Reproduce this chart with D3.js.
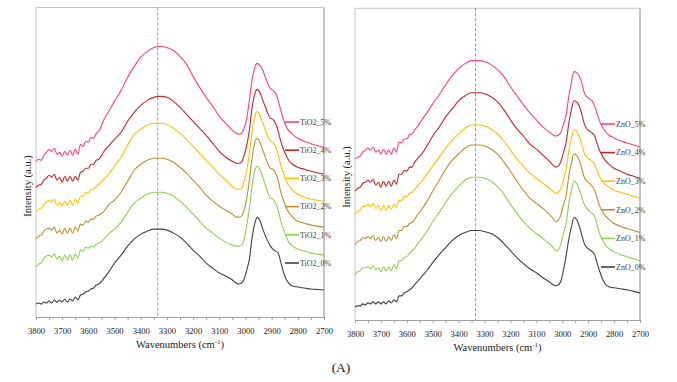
<!DOCTYPE html>
<html><head><meta charset="utf-8">
<script src="https://cdn.jsdelivr.net/npm/d3@7/dist/d3.min.js"></script>
<style>
html,body{margin:0;padding:0;background:#fff;}
svg text{font-family:"Liberation Serif","Times New Roman",serif;}
</style></head>
<body><svg id="chart" width="677" height="382"></svg>
<script>
// ---- data ----
const wavenumbers = [3800,3790,3780,3770,3760,3750,3740,3730,3720,3710,3700,3690,3680,3670,3660,3650,3640,3630,3620,3610,3600,3590,3580,3570,3560,
3540,3520,3500,3475,3450,3425,3400,3375,3350,3335,3320,3300,3275,3250,3225,3200,3175,3150,3125,3100,3075,3050,3035,3025,3015,3005,2995,2985,2975,2965,2955,2945,2935,2925,2915,2905,2895,2885,2875,2865,2855,2845,2835,2820,2800,2775,2750,2725,2700];
const xTicks = [3800,3750,3700,3650,3600,3550,3500,3450,3400,3350,3300,3250,3200,3150,3100,3050,3000,2950,2900,2850,2800,2750,2700];
const markerWavenumber = 3335;

const tio2Labels = ["TiO2_5%","TiO2_4%","TiO2_3%","TiO2_2%","TiO2_1%","TiO2_0%"];
const znoLabels  = ["ZnO_5%","ZnO_4%","ZnO_3%","ZnO_2%","ZnO_1%","ZnO_0%"];

const tio2_5 = [156,158,157,162,165,168,166,169,163,165,161,166,162,167,162,168,163,173,171,176,175,180,179,184,186,
198,207,216,227,240,251,260,266,270,271,271,270,267,261,253,241,230,220,211,201,194,187,184,183,184,189,199,217,237,249,254,252,248,241,234,229,227,224,217,207,198,191,187,183,179,176,173.5,171.5,170];
const tio2_4 = [130,132,133,137,139,142,140,143,137,140,135,141,136,141,136,141,137,145,146,149,149,153,153,157,158,
166,172,178,185,196,205,212,217,220,221,221,220,216,210,203,196,189,182,174,166,160,156,154,154,155,162,172,187,209,223,228,225,218,211,204,199,198,194,186,176,168,162,157,153,150,148,146,144.5,143];
const tio2_3 = [105,108,109,113,115,117,115,118,112,115,111,116,112,117,112,118,114,121,121,125,124,128,128,131,133,
138,144,151,160,172,183,188,192,194,194,194,193,189,184,178,171,164,157,150,143,137,131,128,128,129,136,147,164,185,200,206,202,195,188,181,176,175,171,163,152,144,137,132,127,123,120,118,117,116];
const tio2_2 = [78,81,82,86,88,89,87,90,84,87,83,89,84,89,84,90,86,93,92,96,95,98,98,101,102,
106,113,117,125,136,147,153,157,159,159,159,158,155,150,144,137,130,122,116,111,107,103,100,100,101,107,119,137,159,174,179,175,168,161,154,149,148,144,137,125,117,110,105,100,96,94,92,91,90];
const tio2_1 = [50,53,54,59,61,62,60,63,58,61,56,62,57,62,57,63,59,67,66,70,69,71,70,73,74,
78,84,88,95,105,114,119,123,125,125,125,124,121,116,110,103,96,89,84,79,75,72,71,71,72,78,92,109,131,146,151,148,141,133,125,119,118,114,107,96,88,81,75,71,68,66,64,63,62];
const tio2_0 = [13,14,13,15,14,16,14,17,15,17,15,18,15,18,16,20,17,22,23,25,26,28,29,32,33,
39,46,54,62,71,78,83,86,88,88,88,87,84,80,74,67,61,54,49,44,41,37,34,33,34,38,47,58,79,93,100,97,89,82,76,71,68,66,64,55,45,38,34,31,30,29,28,27.5,27];

const zno_5 = [160,162,163,167,169,171,169,172,167,169,165,170,165,169,165,171,167,177,176,180,180,184,185,189,192,
200,207,215,224,234,243,250,255,258,258,258,257,254,249,242,232,223,214,206,199,192,187,184,183,184,187,195,204,222,236,247,246,243,236,226,222,220,218,213,205,197,192,188,184,181,178,176,174,172];
const zno_4 = [128,131,132,136,137,139,137,140,134,137,132,138,133,138,133,139,135,145,145,149,148,152,152,157,160,
166,174,183,192,202,210,218,223,226,226,226,225,222,217,209,199,190,183,175,170,164,158,154,152,153,158,167,177,195,209,218,217,213,205,195,190,188,186,183,175,168,163,159,155,151,148,145,143,141];
const zno_3 = [105,108,109,113,113,115,113,116,111,114,109,114,109,114,110,115,112,119,119,123,123,126,127,130,133,
139,146,153,162,171,179,185,191,194,194,194,193,190,185,178,169,160,153,146,141,136,131,128,126,127,131,140,150,168,181,189,188,183,175,166,162,160,158,155,148,142,138,135,132,129,127,125,123,121];
const zno_2 = [75,78,79,82,81,83,81,84,79,82,78,83,78,83,79,85,81,89,89,93,93,96,97,100,104,
111,119,128,139,150,159,165,171,174,174,174,173,170,165,157,148,138,129,121,116,111,105,101,98,99,105,115,124,143,156,165,164,159,151,142,138,136,133,129,121,113,108,104,100,96,93,91,89,87];
const zno_1 = [45,48,49,52,52,53,51,54,50,52,48,53,49,53,49,55,51,59,59,62,63,66,69,71,75,
82,89,98,107,117,126,133,139,142,142,142,141,138,133,125,115,106,98,91,86,81,76,72,69,70,76,87,96,115,129,138,136,130,122,115,111,108,106,103,94,85,80,75,71,68,65,63,61,59];
const zno_0 = [13,14,14,16,15,17,16,18,16,18,16,18,16,19,17,20,18,24,24,27,28,30,32,35,38,
44,50,57,65,72,79,84,87,89,89,89,88,86,82,76,69,62,56,51,47,42,38,35,34,35,39,50,64,80,92,102,100,94,85,76,72,70,68,65,56,48,41,36,33,32,31,30,28.5,27];

const seriesColors = ["#ff3f7f","#c3262c","#ffc000","#bf8f2f","#92d050","#404040"];

// ---- drawing ----
const svg = d3.select("#chart");

const panels = [
  {labels: tio2Labels, series:[tio2_5,tio2_4,tio2_3,tio2_2,tio2_1,tio2_0],
   x0:36, x1:324, y0:7.5, y1:317, legX:285, legY0:122, legStep:28.2, yTitleX:31, yTitleY:186},
  {labels: znoLabels, series:[zno_5,zno_4,zno_3,zno_2,zno_1,zno_0],
   x0:355, x1:640, y0:8.3, y1:320, legX:601, legY0:124, legStep:28.6, yTitleX:350, yTitleY:177}
];

panels.forEach(p => {
  const x = d3.scaleLinear().domain([3800,2700]).range([p.x0,p.x1]);
  const y = d3.scaleLinear().domain([0,310]).range([p.y1,p.y0]);
  const g = svg.append("g");

  // frame
  g.append("line").attr("x1",p.x0).attr("x2",p.x1).attr("y1",p.y0).attr("y2",p.y0).attr("stroke","#c4c4c4");
  g.append("line").attr("x1",p.x0).attr("x2",p.x0).attr("y1",p.y0).attr("y2",p.y1).attr("stroke","#c4c4c4");
  g.append("line").attr("x1",p.x1).attr("x2",p.x1).attr("y1",p.y0).attr("y2",p.y1).attr("stroke","#8a8a8a");

  // x axis
  const ax = g.append("g").attr("transform",`translate(0,${p.y1})`)
    .call(d3.axisBottom(x).tickValues(xTicks).tickSize(3).tickSizeOuter(0).tickPadding(8)
      .tickFormat(d => d % 100 === 0 ? d : ""));
  ax.select(".domain").attr("stroke","#a0a0a0");
  ax.selectAll(".tick line").attr("stroke","#a0a0a0");
  ax.selectAll(".tick text").attr("font-size","8.6px").attr("fill","#222")
    .attr("font-family","'Liberation Serif','Times New Roman',serif");

  // dashed marker
  g.append("line").attr("x1",x(markerWavenumber)).attr("x2",x(markerWavenumber))
    .attr("y1",p.y0).attr("y2",p.y1).attr("stroke","#777").attr("stroke-width",0.8)
    .attr("stroke-dasharray","3,2");

  // curves
  const line = d3.line().x((d,i)=>x(wavenumbers[i])).y(d=>y(d)).curve(d3.curveMonotoneX);
  p.series.forEach((s,i) => {
    g.append("path").datum(s).attr("d",line).attr("fill","none")
      .attr("stroke",seriesColors[i]).attr("stroke-width",1.1).attr("stroke-linejoin","round");
  });

  // legend
  p.labels.forEach((lab,i) => {
    const ly = p.legY0 + i*p.legStep;
    g.append("line").attr("x1",p.legX).attr("x2",p.legX+14).attr("y1",ly).attr("y2",ly)
      .attr("stroke",seriesColors[i]).attr("stroke-width",1.6);
    g.append("text").attr("x",p.legX+15).attr("y",ly+2.8).attr("font-size","8px")
      .attr("fill","#404040").text(lab);
  });

  // axis titles
  const t = g.append("text").attr("x",(p.x0+p.x1)/2).attr("y",p.y1+31).attr("text-anchor","middle")
    .attr("font-size","10.5px").attr("fill","#222");
  t.append("tspan").text("Wavenumbers (cm");
  t.append("tspan").attr("font-size","7px").attr("dy","-4").text("-1");
  t.append("tspan").attr("dy","4").text(")");

  g.append("text").attr("transform",`translate(${p.yTitleX},${p.yTitleY}) rotate(-90)`)
    .attr("text-anchor","middle").attr("font-size","10.5px").attr("fill","#222").text("Intensity (a.u.)");
});

svg.append("text").attr("x",341).attr("y",372).attr("text-anchor","middle")
  .attr("font-size","13.5px").attr("fill","#111").text("(A)");
</script></body></html>
